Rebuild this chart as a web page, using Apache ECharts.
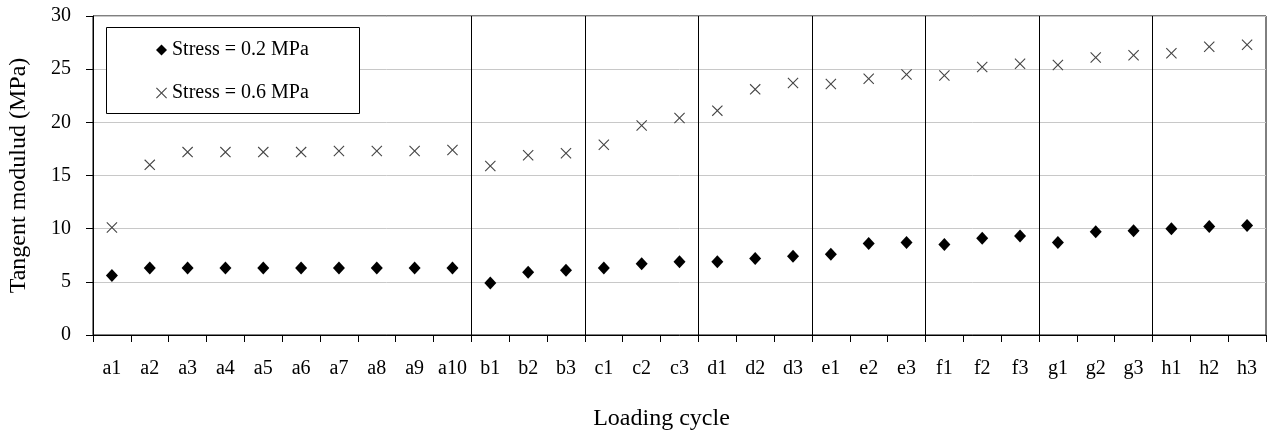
<!DOCTYPE html>
<html>
<head>
<meta charset="utf-8">
<script src="https://cdn.jsdelivr.net/npm/echarts@6/dist/echarts.min.js"></script>
<style>
  html, body { margin: 0; padding: 0; background: #fff; }
  #chart { width: 1268px; height: 432px; }
</style>
</head>
<body>
<div id="chart"></div>
<script>
// Loading cycles, grouped by letter (a..h)
const categories = [
  'a1', 'a2', 'a3', 'a4', 'a5', 'a6', 'a7', 'a8', 'a9', 'a10',
  'b1', 'b2', 'b3', 'c1', 'c2', 'c3', 'd1', 'd2', 'd3',
  'e1', 'e2', 'e3', 'f1', 'f2', 'f3', 'g1', 'g2', 'g3', 'h1', 'h2', 'h3'
];

// Tangent modulus (MPa) per loading cycle
const stress02 = [
  5.6, 6.3, 6.3, 6.3, 6.3, 6.3, 6.3, 6.3, 6.3, 6.3,
  4.9, 5.9, 6.1, 6.3, 6.7, 6.9, 6.9, 7.2, 7.4,
  7.6, 8.6, 8.7, 8.5, 9.1, 9.3, 8.7, 9.7, 9.8, 10.0, 10.2, 10.3
];
const stress06 = [
  10.1, 16.0, 17.2, 17.2, 17.2, 17.2, 17.3, 17.3, 17.3, 17.4,
  15.9, 16.9, 17.1, 17.9, 19.7, 20.4, 21.1, 23.1, 23.7,
  23.6, 24.1, 24.5, 24.4, 25.2, 25.5, 25.4, 26.1, 26.3, 26.5, 27.1, 27.3
];

const seriesNames = ['Stress = 0.2 MPa', 'Stress = 0.6 MPa'];
const yAxisTitle = 'Tangent modulud (MPa)';
const xAxisTitle = 'Loading cycle';

// Positions (in category units) where the group letter changes
const groupBreaks = [];
for (let i = 1; i < categories.length; i++) {
  if (categories[i][0] !== categories[i - 1][0]) groupBreaks.push(i);
}

const FONT = "'Liberation Serif', 'Times New Roman', serif";
const CROSS = 'path://M0,0.7L0.7,0L5,4.3L9.3,0L10,0.7L5.7,5L10,9.3L9.3,10L5,5.7L0.7,10L0,9.3L4.3,5Z';

const chart = echarts.init(document.getElementById('chart'), null, { renderer: 'canvas' });

const legendBase = {
  orient: 'vertical',
  left: 156,
  padding: 0,
  itemWidth: 11,
  itemHeight: 11,
  itemGap: 5,
  selectedMode: false,
  textStyle: { fontFamily: FONT, fontSize: 20, color: '#000', lineHeight: 20 }
};

chart.setOption({
  animation: false,
  backgroundColor: '#fff',
  grid: {
    left: 93, right: 2, top: 16, bottom: 97,
    outerBoundsMode: 'none',
    containLabel: false,
    show: true, borderColor: '#000', borderWidth: 1
  },
  graphic: [{
    type: 'rect',
    shape: { x: 106.5, y: 27.5, width: 253, height: 86 },
    style: { fill: '#fff', stroke: '#000', lineWidth: 1 },
    z: 5
  }],
  legend: [
    Object.assign({}, legendBase, {
      top: 40, z: 10,
      data: [{ name: seriesNames[0], icon: 'diamond', itemStyle: { color: '#000', opacity: 1 } }]
    }),
    Object.assign({}, legendBase, {
      top: 83, z: 10,
      data: [{ name: seriesNames[1], icon: CROSS, itemStyle: { color: '#444', opacity: 1 } }]
    })
  ],
  xAxis: [{
    type: 'category',
    data: categories,
    boundaryGap: true,
    name: xAxisTitle,
    nameLocation: 'middle',
    nameGap: 72,
    nameTextStyle: { fontFamily: FONT, fontSize: 24, color: '#000', padding: [0, 36, 0, 0] },
    axisLine: { lineStyle: { color: '#000', width: 1 } },
    axisTick: { show: true, length: 7, inside: false, lineStyle: { color: '#000' } },
    axisLabel: { fontFamily: FONT, fontSize: 20, color: '#000', margin: 24, interval: 0 },
    splitLine: { show: false }
  }, {
    type: 'value',
    min: 0,
    max: categories.length,
    show: false,
    splitLine: { show: false }
  }],
  yAxis: {
    type: 'value',
    min: 0,
    max: 30,
    interval: 5,
    name: yAxisTitle,
    nameLocation: 'middle',
    nameRotate: 90,
    nameGap: 62,
    nameTextStyle: { fontFamily: FONT, fontSize: 24, color: '#000' },
    axisLine: { show: true, lineStyle: { color: '#000', width: 1 } },
    axisTick: { show: true, length: 7, inside: false, lineStyle: { color: '#000' } },
    axisLabel: { fontFamily: FONT, fontSize: 20, color: '#000', margin: 22 },
    splitLine: { show: true, lineStyle: { color: '#c8c8c8', width: 1 } }
  },
  series: [
    {
      name: seriesNames[0],
      type: 'scatter',
      symbol: 'diamond',
      symbolSize: [12, 13],
      itemStyle: { color: '#000', opacity: 1 },
      data: stress02,
      z: 3
    },
    {
      name: seriesNames[1],
      type: 'scatter',
      symbol: CROSS,
      symbolSize: 11,
      itemStyle: { color: '#444', opacity: 1 },
      data: stress06,
      z: 3
    },
    {
      // vertical dividers between loading-cycle groups
      type: 'line',
      xAxisIndex: 1,
      data: [],
      silent: true,
      markLine: {
        silent: true,
        symbol: ['none', 'none'],
        label: { show: false },
        lineStyle: { color: '#000', width: 1, type: 'solid' },
        emphasis: { disabled: true },
        data: groupBreaks.map(v => ({ xAxis: v }))
      },
      z: 2
    }
  ]
});
</script>
</body>
</html>
